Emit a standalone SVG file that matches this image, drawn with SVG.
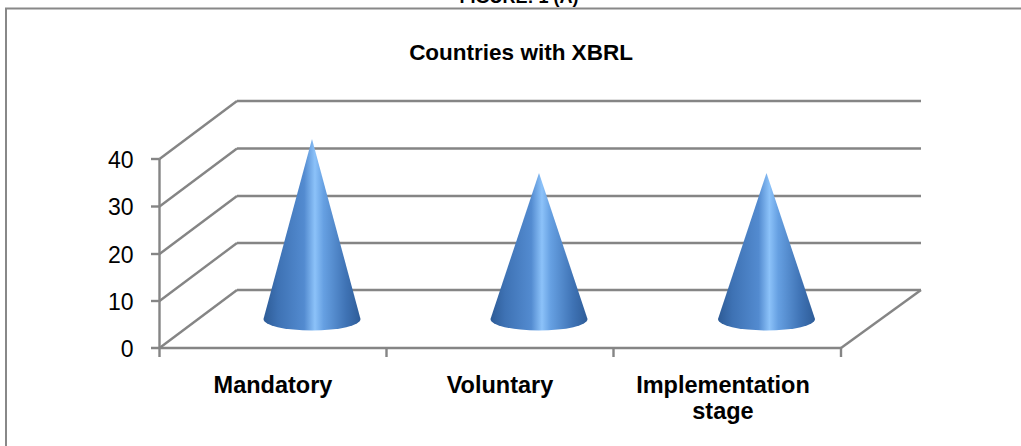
<svg xmlns="http://www.w3.org/2000/svg" width="1021" height="446" viewBox="0 0 1021 446">
  <style>
    .grid { stroke: #858585; stroke-width: 2.4; fill: none; }
    .frame { stroke: #888888; stroke-width: 2; fill: none; }
    .ylab { font-family: "Liberation Sans", Arial, sans-serif; font-size: 23px; fill: #000; text-anchor: end; }
    .xlab { font-family: "Liberation Sans", Arial, sans-serif; font-size: 23.5px; font-weight: bold; fill: #000; text-anchor: middle; }
    .title { font-family: "Liberation Sans", Arial, sans-serif; font-size: 22.5px; font-weight: bold; fill: #000; text-anchor: middle; }
    .cone { fill: url(#coneGrad); }
  </style>
  <defs>
    <linearGradient id="coneGrad" x1="0" y1="0" x2="1" y2="0">
      <stop offset="0" stop-color="#2d5b96"/>
      <stop offset="0.15" stop-color="#3e72b4"/>
      <stop offset="0.42" stop-color="#538bd0"/>
      <stop offset="0.53" stop-color="#8cc2f9"/>
      <stop offset="0.62" stop-color="#66a0e2"/>
      <stop offset="0.85" stop-color="#3f73b5"/>
      <stop offset="1" stop-color="#2e5c98"/>
    </linearGradient>
  </defs>
  <rect x="0" y="0" width="1021" height="446" fill="#ffffff"/>

  <text class="title" x="519" y="3" style="font-size:18px">FIGURE: 1 (A)</text>

  <g id="frame">
    <polyline class="frame" points="6,446 6,8.5 1021,8.5"/>
  </g>

  <text id="chart-title" class="title" x="521" y="60">Countries with XBRL</text>

  <g id="connectors">
    <!-- back wall gridlines -->
    <line class="grid" x1="237" y1="101" x2="921" y2="101"/>
    <line class="grid" x1="237" y1="148.5" x2="921" y2="148.5"/>
    <line class="grid" x1="237" y1="196" x2="921" y2="196"/>
    <line class="grid" x1="237" y1="243" x2="921" y2="243"/>
    <line class="grid" x1="237" y1="290" x2="921" y2="290"/>
    <!-- side wall diagonals -->
    <line class="grid" x1="159.5" y1="159" x2="237" y2="101"/>
    <line class="grid" x1="159.5" y1="206.5" x2="237" y2="148.5"/>
    <line class="grid" x1="159.5" y1="254" x2="237" y2="196"/>
    <line class="grid" x1="159.5" y1="301" x2="237" y2="243"/>
    <line class="grid" x1="159.5" y1="348" x2="237" y2="290"/>
    <!-- floor right diagonal -->
    <line class="grid" x1="921" y1="290" x2="841" y2="348"/>
    <!-- axes -->
    <line class="grid" x1="159.5" y1="159" x2="159.5" y2="357"/>
    <line class="grid" x1="151" y1="348" x2="841" y2="348"/>
    <line class="grid" x1="151" y1="159" x2="159.5" y2="159"/>
    <line class="grid" x1="151" y1="206.5" x2="159.5" y2="206.5"/>
    <line class="grid" x1="151" y1="254" x2="159.5" y2="254"/>
    <line class="grid" x1="151" y1="301" x2="159.5" y2="301"/>
    <line class="grid" x1="386.5" y1="348" x2="386.5" y2="357"/>
    <line class="grid" x1="613.5" y1="348" x2="613.5" y2="357"/>
    <line class="grid" x1="841" y1="348" x2="841" y2="357"/>
  </g>

  <g id="y-axis-labels">
    <text class="ylab" x="133.5" y="167.5">40</text>
    <text class="ylab" x="133.5" y="215">30</text>
    <text class="ylab" x="133.5" y="262.5">20</text>
    <text class="ylab" x="133.5" y="309.5">10</text>
    <text class="ylab" x="133.5" y="357">0</text>
  </g>

  <g id="cone-mandatory">
    <path class="cone" d="M263.5,319 L312,139 L360.5,319 A48.5,11.5 0 0 1 263.5,319 Z"/>
  </g>
  <g id="cone-voluntary">
    <path class="cone" d="M490.5,319 L539,173 L587.5,319 A48.5,11.5 0 0 1 490.5,319 Z"/>
  </g>
  <g id="cone-implementation">
    <path class="cone" d="M718,319 L766.5,173 L815,319 A48.5,11.5 0 0 1 718,319 Z"/>
  </g>

  <g id="x-axis-labels">
    <text class="xlab" x="273" y="393">Mandatory</text>
    <text class="xlab" x="500" y="393">Voluntary</text>
    <text class="xlab" x="723" y="393">Implementation</text>
    <text class="xlab" x="723" y="419">stage</text>
  </g>
</svg>
